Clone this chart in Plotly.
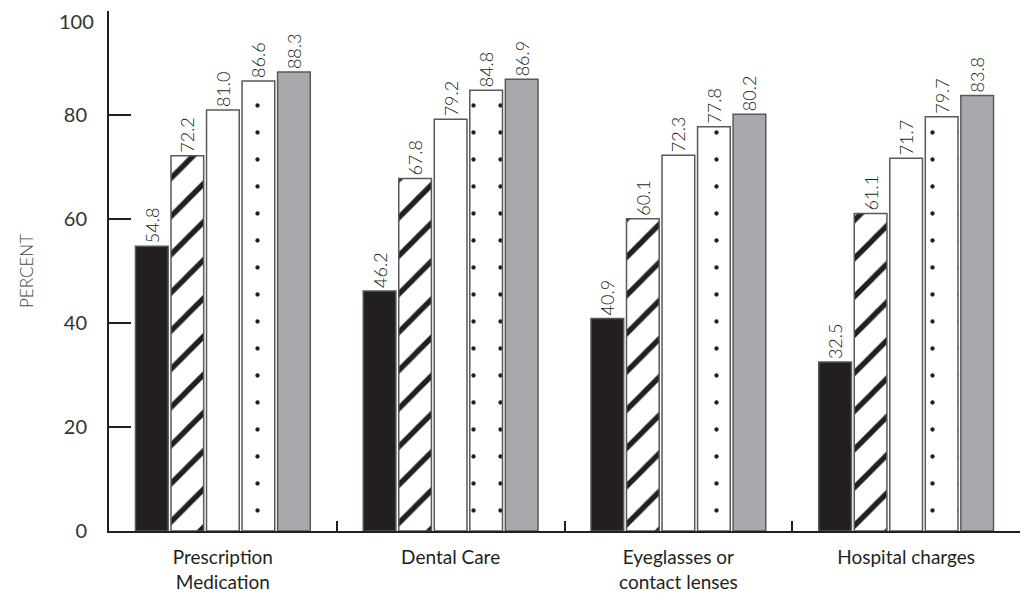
import plotly.graph_objects as go

categories = ["Prescription<br>Medication", "Dental Care", "Eyeglasses or<br>contact lenses", "Hospital charges"]
series_names = ["Series 1", "Series 2", "Series 3", "Series 4", "Series 5"]
s1 = [54.8, 46.2, 40.9, 32.5]
s2 = [72.2, 67.8, 60.1, 61.1]
s3 = [81.0, 79.2, 72.3, 71.7]
s4 = [86.6, 84.8, 77.8, 79.7]
s5 = [88.3, 86.9, 80.2, 83.8]
y_ticks = [0, 20, 40, 60, 80, 100]
y_tick_labels = ["0", "20", "40", "60", "80", "100"]

INK = "#231f20"
EDGE = "#58595b"
FONT = "Lato, Open Sans, sans-serif"
TICKFONT = dict(family=FONT, size=20, color="#333333")

styles = [
    dict(color=INK),
    dict(color="white", pattern=dict(shape="/", fgcolor=INK, bgcolor="white", size=27, solidity=0.2, fillmode="replace")),
    dict(color="white"),
    dict(color="white", pattern=dict(shape=".", fgcolor=INK, bgcolor="white", size=27, solidity=0.02, fillmode="replace")),
    dict(color="#a7a9ac"),
]

fig = go.Figure()
for name, vals, st in zip(series_names, [s1, s2, s3, s4, s5], styles):
    marker = dict(line=dict(color=EDGE, width=1.5), **st)
    fig.add_trace(go.Bar(
        x=categories, y=vals, name=name, marker=marker,
        texttemplate="%{y:.1f}", textposition="outside", textangle=-90,
        textfont=dict(family=FONT, size=18, color=INK, weight=300),
        constraintext="none", cliponaxis=False,
    ))

# the top tick label sits just below its tick so it stays inside the page
shown_labels = y_tick_labels[:-1] + [""]
fig.add_annotation(
    x=0, xref="paper", y=y_ticks[-1], yref="y", text=y_tick_labels[-1],
    showarrow=False, xanchor="right", yanchor="top", xshift=-14, yshift=3,
    borderpad=0, font=TICKFONT,
)

fig.update_layout(
    width=1029, height=609,
    margin=dict(l=101, r=17, t=3, b=86, autoexpand=False),
    paper_bgcolor="white", plot_bgcolor="white",
    barmode="group", bargap=0.22, bargroupgap=0.08,
    showlegend=False,
    font=dict(family=FONT, color=INK),
)
fig.update_xaxes(
    range=[-0.5, 3.5], showline=True, linecolor=INK, linewidth=2,
    ticks="inside", tickson="boundaries", ticklen=10, tickwidth=2, tickcolor=INK,
    tickfont=dict(family=FONT, size=19, color=INK), ticklabelstandoff=8,
    showgrid=False, zeroline=False, automargin=False,
)
fig.update_yaxes(
    range=[0, 100.05], tickvals=y_ticks, ticktext=shown_labels,
    showline=True, linecolor=INK, linewidth=2,
    ticks="inside", ticklen=22, tickwidth=2, tickcolor=INK,
    tickfont=TICKFONT, ticklabelstandoff=16,
    ticklabeloverflow="allow",
    showgrid=False, zeroline=False, automargin=False,
    title=dict(text="PERCENT", font=dict(family=FONT, size=17, color="#444444", weight=300), standoff=26),
)

fig.write_html("out.html")
